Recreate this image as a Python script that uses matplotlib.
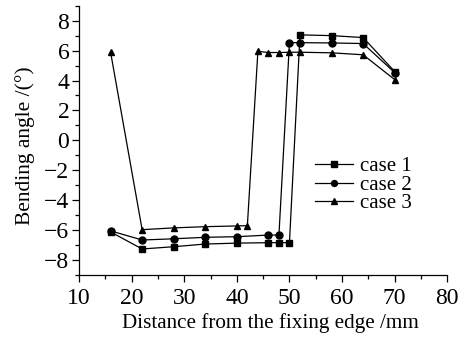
import matplotlib
matplotlib.use("Agg")
import matplotlib.pyplot as plt
from matplotlib.ticker import MultipleLocator

plt.rcParams['font.family'] = ['Liberation Serif', 'DejaVu Serif']

x1 = [16, 22, 28, 34, 40, 46, 48, 50, 52, 58, 64, 70]
case1 = [-6.12, -7.26, -7.11, -6.93, -6.87, -6.84, -6.84, -6.84, 7.05, 7.0, 6.87, 4.6]
x2 = [16, 22, 28, 34, 40, 46, 48, 50, 52, 58, 64, 70]
case2 = [-6.05, -6.66, -6.58, -6.48, -6.44, -6.33, -6.33, 6.53, 6.53, 6.51, 6.47, 4.53]
x3 = [16, 22, 28, 34, 40, 42, 44, 46, 48, 50, 52, 58, 64, 70]
case3 = [5.9, -5.97, -5.85, -5.77, -5.72, -5.7, 5.95, 5.87, 5.87, 5.89, 5.89, 5.85, 5.72, 4.06]

W, H = 469, 339
fig = plt.figure(figsize=(W / 100, H / 100), dpi=100)
ax = fig.add_axes([79 / W, 1 - 275 / H, (447.3 - 79) / W, (275 - 5.7) / H])

kw = dict(color='black', linewidth=0.9, markersize=5)
ax.plot(x1, case1, marker='s', label='case 1', **kw)
ax.plot(x2, case2, marker='o', label='case 2', **kw)
ax.plot(x3, case3, marker='^', label='case 3', **kw)

ax.set_xlim(10, 80)
ax.set_ylim(-9, 9)
ax.xaxis.set_major_locator(MultipleLocator(10))
ax.xaxis.set_minor_locator(MultipleLocator(5))
ax.yaxis.set_major_locator(MultipleLocator(2))
ax.yaxis.set_minor_locator(MultipleLocator(1))
ax.spines['top'].set_visible(False)
ax.spines['right'].set_visible(False)
for s in ('left', 'bottom'):
    ax.spines[s].set_linewidth(0.9)
ax.tick_params(which='major', direction='out', length=5, width=0.9, labelsize=17)
ax.tick_params(axis='x', which='major', pad=4)
ax.tick_params(axis='y', which='major', pad=2)
ax.tick_params(which='minor', direction='out', length=3, width=0.9)

ax.set_xlabel('Distance from the fixing edge /mm', fontsize=15.2)
ax.xaxis.set_label_coords(270 / W, 1 - 313 / H, transform=fig.transFigure)
ax.set_ylabel('Bending angle /(°)', fontsize=15.5)
ax.yaxis.set_label_coords(35 / W, 1 - 146 / H, transform=fig.transFigure)

ax.legend(loc='center left', bbox_to_anchor=(315 / W, 1 - 185 / H),
          bbox_transform=fig.transFigure, frameon=False, fontsize=15,
          handlelength=1.81, handletextpad=0.35, labelspacing=-0.05,
          borderpad=0, borderaxespad=0, markerscale=0.85)

fig.savefig('out.png', dpi=100)
